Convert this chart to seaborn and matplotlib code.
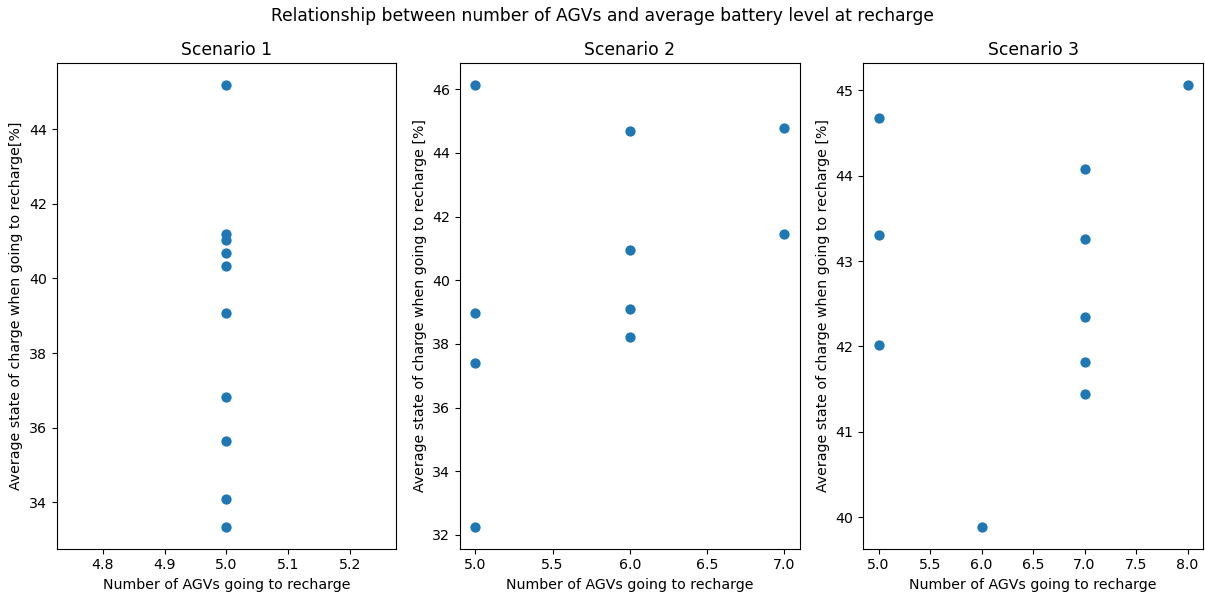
import pandas as pd
import seaborn as sns
import matplotlib.pyplot as plt

# Values
agvs_s1 = [5, 5, 5, 5, 5, 5, 5, 5, 5, 5]
soc_s1 = [45.18, 41.19, 41.03, 40.69, 40.33, 39.06, 36.83, 35.64, 34.08, 33.35]

agvs_s2 = [5, 5, 5, 5, 6, 6, 6, 6, 7, 7]
soc_s2 = [46.13, 38.96, 37.40, 32.26, 44.68, 40.94, 39.10, 38.23, 44.77, 41.44]

agvs_s3 = [5, 5, 5, 6, 7, 7, 7, 7, 7, 8]
soc_s3 = [44.67, 43.31, 42.02, 39.89, 44.08, 43.26, 42.35, 41.82, 41.44, 45.06]

scenarios = ["Scenario 1", "Scenario 2", "Scenario 3"]
ylabels = [
    "Average state of charge when going to recharge[%]",
    "Average state of charge when going to recharge [%]",
    "Average state of charge when going to recharge [%]",
]

frames = []
for name, x, y in zip(scenarios, [agvs_s1, agvs_s2, agvs_s3], [soc_s1, soc_s2, soc_s3]):
    frames.append(pd.DataFrame({"scenario": name, "agvs": x, "soc": y}))
df = pd.concat(frames, ignore_index=True)

plt.rcParams["font.size"] = 10.2

fig, axes = plt.subplots(1, 3, figsize=(12.05, 5.96), dpi=100)

for ax, name, ylab in zip(axes, scenarios, ylabels):
    subset = df[df["scenario"] == name]
    sns.scatterplot(data=subset, x="agvs", y="soc", ax=ax, color="#1f77b4",
                    s=55, linewidth=0)
    ax.set_title(name, fontsize=12.3)
    ax.set_xlabel("Number of AGVs going to recharge")
    ax.set_ylabel(ylab)

fig.suptitle("Relationship between number of AGVs and average battery level at recharge",
             fontsize=12.3, y=0.988)
plt.subplots_adjust(left=0.0469, right=0.9983, top=0.8943, bottom=0.0794, wspace=0.187)
plt.savefig("out.png", dpi=100)
plt.close()
